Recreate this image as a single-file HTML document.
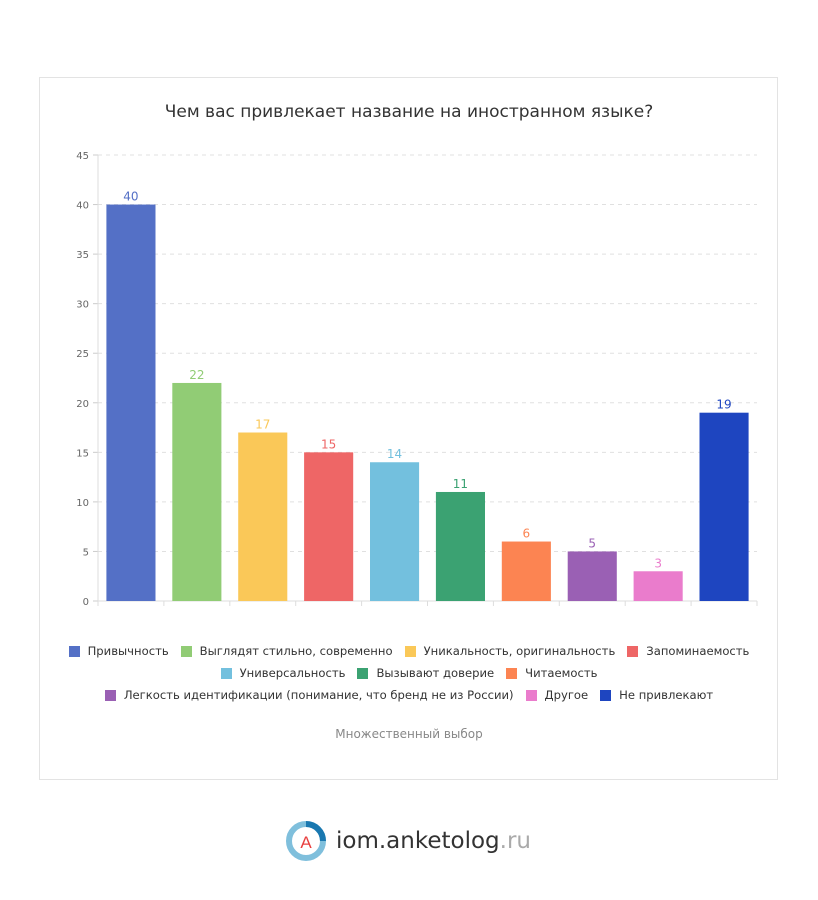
<!DOCTYPE html>
<html><head><meta charset="utf-8">
<style>
body{margin:0;background:#fff;width:818px;height:900px;position:relative;font-family:"DejaVu Sans","Liberation Sans",sans-serif;}
#frame{position:absolute;left:39px;top:77px;width:739px;height:703px;border:1px solid #e3e3e3;box-sizing:border-box;}
.lrow{position:absolute;left:0;width:818px;display:flex;justify-content:center;font-size:11.6px;color:#333;}
.li{display:flex;align-items:center;margin:0 6px;white-space:nowrap;}
.sw{width:11px;height:11px;margin-right:8px;}
</style></head><body>
<div id="frame"></div>
<svg id="chart" width="818" height="900" style="position:absolute;left:0;top:0" font-family="DejaVu Sans, Liberation Sans, sans-serif">
<text x="409" y="117" text-anchor="middle" font-size="17" fill="#333">Чем вас привлекает название на иностранном языке?</text>
<g id="grid"></g><g id="bars"></g>
<text x="409" y="738" text-anchor="middle" font-size="12" fill="#888">Множественный выбор</text>
</svg>
<div class="lrow" style="top:644px" id="lr1"></div>
<div class="lrow" style="top:666px" id="lr2"></div>
<div class="lrow" style="top:688px" id="lr3"></div>
<div style="position:absolute;left:284px;top:819px;display:flex;align-items:center;">
<svg width="44" height="44"><circle cx="22" cy="22" r="17" fill="none" stroke="#7fbfdc" stroke-width="6"/><path d="M22 5 A17 17 0 0 1 39 22" fill="none" stroke="#1a78b0" stroke-width="6"/><circle cx="22" cy="22" r="12" fill="#fff"/><text x="22" y="29" text-anchor="middle" font-size="17" fill="#e84040" font-family="Liberation Sans, sans-serif">A</text></svg>
<span style="font-size:23px;color:#333;margin-left:8px;">iom.anketolog<span style="color:#aaa">.ru</span></span>
</div>
<script>
const categories=["Привычность","Выглядят стильно, современно","Уникальность, оригинальность","Запоминаемость","Универсальность","Вызывают доверие","Читаемость","Легкость идентификации (понимание, что бренд не из России)","Другое","Не привлекают"];
const values=[40,22,17,15,14,11,6,5,3,19];
const colors=["#5470c6","#91cc75","#fac858","#ee6666","#73c0de","#3ba272","#fc8452","#9a60b4","#ea7ccc","#1e45c0"];
const ticks=[0,5,10,15,20,25,30,35,40,45];
const NS="http://www.w3.org/2000/svg";
const X0=98,X1=757,Y0=601,Y1=155,YMAX=45;
const y=v=>Y0-(v/YMAX)*(Y0-Y1);
const band=(X1-X0)/categories.length;
const xc=i=>X0+band*(i+0.5);
const grid=document.getElementById('grid'),bars=document.getElementById('bars');
function mk(t,a,p){const e=document.createElementNS(NS,t);for(const k in a)e.setAttribute(k,a[k]);p.appendChild(e);return e;}
ticks.forEach(t=>{
 if(t>0){const l=mk('line',{x1:X0,x2:X1,y1:y(t),y2:y(t),stroke:'#e0e0e0','stroke-dasharray':'4,4'},grid);
 
 }
 mk('line',{x1:X0-5,x2:X0,y1:y(t),y2:y(t),stroke:'#ccc'},grid);
 const tx=mk('text',{x:X0-9,y:y(t)+4,'text-anchor':'end','font-size':10,fill:'#666'},grid);tx.textContent=t;
 
 
});
mk('line',{x1:X0,x2:X0,y1:Y1,y2:Y0,stroke:'#ddd'},grid);
mk('line',{x1:X0,x2:X1,y1:Y0,y2:Y0,stroke:'#ddd'},grid);
for(let i=0;i<=categories.length;i++)mk('line',{x1:X0+band*i,x2:X0+band*i,y1:Y0,y2:Y0+5,stroke:'#ddd'},grid);
const bw=band*0.745;
values.forEach((v,i)=>{
 const r=mk('rect',{x:xc(i)-bw/2,y:y(v),width:bw,height:Y0-y(v),fill:colors[i]},bars);
 
 
 const t=mk('text',{x:xc(i),y:y(v)-4,'text-anchor':'middle','font-size':12,fill:colors[i]},bars);t.textContent=v;
 
 
});
const rows=[[0,1,2,3],[4,5,6],[7,8,9]];
rows.forEach((r,ri)=>{const row=document.getElementById('lr'+(ri+1));
 r.forEach(i=>{const d=document.createElement('div');d.className='li';
 
 
 d.innerHTML='<span class="sw" style="background:'+colors[i]+'"></span>'+categories[i];row.appendChild(d);});});
</script>
</body></html>
